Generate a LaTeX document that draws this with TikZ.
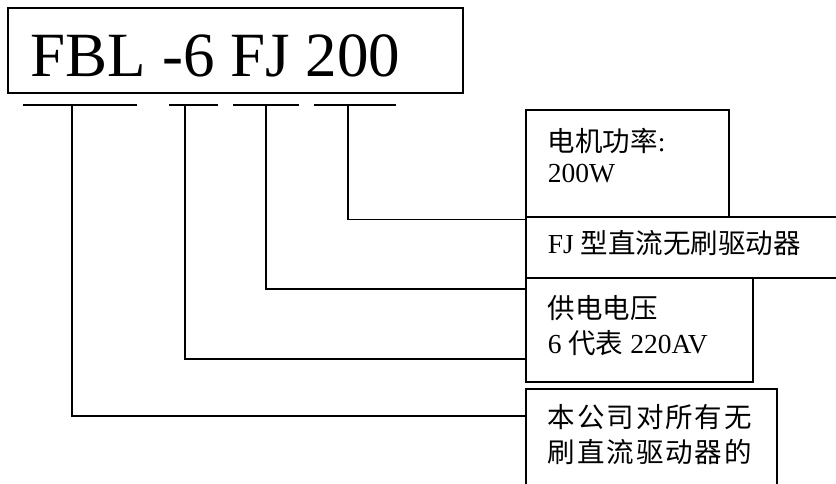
\documentclass[tikz,border=0pt]{standalone}
\usepackage{fontspec}
\setmainfont{Liberation Serif}
\newfontfamily\cjk{Noto Sans CJK SC}
\newfontfamily\cjkwide[LetterSpace=7]{Noto Sans CJK SC}
\usetikzlibrary{positioning}

\begin{document}
\begin{tikzpicture}[x=1pt,y=-1pt,line width=1.6pt]

	\tikzset{
		frame/.style={
				draw, rectangle, anchor=north west, inner sep=0pt
			},
		boxtext/.style={
				anchor=base west, align=left, inner sep=0pt, font=\fontsize{27.5}{34.5}\selectfont
			},
	}
	\useasboundingbox (0,0) rectangle (836,484);

	\node[frame, minimum width=455pt, minimum height=85pt](model) at (7,7){};
	\node[anchor=base west, inner sep=0pt, font=\fontsize{63}{70}\selectfont](code) at (30,77){FBL -6 FJ 200};

	\node[frame, minimum width=203pt, minimum height=107pt](power) at (525,109){};
	\node[frame, minimum width=315pt, minimum height=61pt](driver) at (525,216){};
	\node[frame, minimum width=227pt, minimum height=104pt](volt) at (525,277){};
	\node[frame, minimum width=251pt, minimum height=110pt](brand) at (525,388){};

	% base of the last line
	\node[boxtext, font=\fontsize{27.5}{32}\selectfont](powert) at (547,183){{\cjk 电机功率}:\\200W};
	\node[boxtext](drivert) at (547,253){FJ {\cjk 型直流无刷驱动器}};
	\node[boxtext](voltt) at (547,353){{\cjk 供电电压}\\6 {\cjk 代表} 220AV};
	\node[boxtext, font=\fontsize{27.5}{34.5}\selectfont\cjkwide](brandt) at (547,462){本公司对所有无\\刷直流驱动器的};

	% under the model code
	\coordinate (fbl) at (72,105);
	\coordinate (six) at (185,105);
	\coordinate (fj) at (266,105);
	\coordinate (w) at (348,105);

	\draw ([xshift=-49pt]fbl)--([xshift=65pt]fbl);
	\draw ([xshift=-16pt]six)--([xshift=33pt]six);
	\draw ([xshift=-33pt]fj)--([xshift=33pt]fj);
	\draw ([xshift=-34pt]w)--([xshift=48pt]w);

	\draw (w) |- ([yshift=-2pt]power.south west);
	\draw (fj) |- ([yshift=-12pt]volt.north west);
	\draw (six) |- ([yshift=-82pt]volt.north west);
	\draw (fbl) |- ([yshift=-28pt]brand.north west);

\end{tikzpicture}
\end{document}
